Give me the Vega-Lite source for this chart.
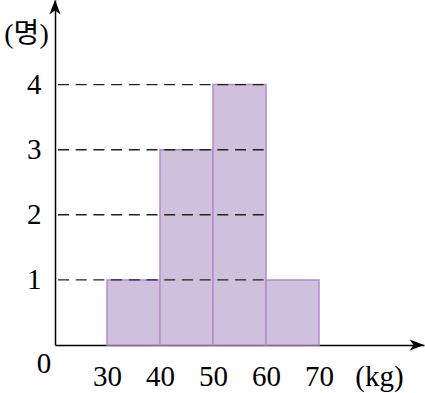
{
  "$schema": "https://vega.github.io/schema/vega-lite/v6.json",
  "width": 369,
  "height": 345,
  "autosize": "none",
  "padding": {"left": 55, "top": 0, "right": 1, "bottom": 48},
  "config": {
    "view": {"stroke": null},
    "font": "Liberation Serif",
    "axis": {
      "grid": false,
      "ticks": false,
      "tickSize": 0,
      "domainColor": "#000000",
      "domainWidth": 1.5,
      "labelColor": "#000000",
      "labelFont": "Liberation Serif",
      "labelFontSize": 29
    }
  },
  "datasets": {
    "bins": [
      {"from": 30, "to": 40, "count": 1},
      {"from": 40, "to": 50, "count": 3},
      {"from": 50, "to": 60, "count": 4},
      {"from": 60, "to": 70, "count": 1}
    ],
    "levels": [
      {"level": 1},
      {"level": 2},
      {"level": 3},
      {"level": 4}
    ],
    "origin": [{"label": "0"}]
  },
  "layer": [
    {
      "data": {"name": "bins"},
      "mark": {"type": "rect", "fill": "#cfc0de", "stroke": "#b48dcb", "strokeWidth": 1.5},
      "encoding": {
        "x": {
          "field": "from",
          "type": "quantitative",
          "scale": {"domain": [20.2, 89.8], "nice": false, "zero": false},
          "axis": {
            "title": null,
            "values": [30, 40, 50, 60, 70, 81.3],
            "labelExpr": "datum.value > 80 ? '(kg)' : datum.label",
            "labelBaseline": "middle",
            "labelPadding": 31,
            "labelFlush": false,
            "labelOverlap": false
          }
        },
        "x2": {"field": "to"},
        "y": {
          "field": "count",
          "type": "quantitative",
          "scale": {"domain": [0, 5.3], "nice": false},
          "axis": {
            "values": [1, 2, 3, 4],
            "format": "d",
            "labelBaseline": "middle",
            "labelPadding": 14,
            "title": "(명)",
            "titleAngle": 0,
            "titleX": -29,
            "titleY": 34,
            "titleAlign": "center",
            "titleBaseline": "middle",
            "titleFont": "Liberation Serif, Noto Sans CJK KR",
            "titleFontSize": 28,
            "titleFontWeight": "normal",
            "titleColor": "#000000"
          }
        },
        "y2": {"datum": 0}
      }
    },
    {
      "data": {"name": "levels"},
      "mark": {"type": "rule", "color": "#222222", "strokeWidth": 1.4, "strokeDash": [11, 6.7], "strokeDashOffset": -3},
      "encoding": {
        "x": {"datum": 20.2, "type": "quantitative"},
        "x2": {"datum": 60},
        "y": {"field": "level", "type": "quantitative"}
      }
    },
    {
      "data": {"name": "origin"},
      "mark": {"type": "point", "shape": "M0,0L-0.7,1.8L0,1.3L0.7,1.8Z", "filled": true, "color": "#000000", "opacity": 1, "size": 256, "strokeWidth": 0},
      "encoding": {
        "x": {"datum": 20.2, "type": "quantitative"},
        "y": {"datum": 5.3, "type": "quantitative"}
      }
    },
    {
      "data": {"name": "origin"},
      "mark": {"type": "point", "shape": "M0,0L-1.8,-0.7L-1.3,0L-1.8,0.7Z", "filled": true, "color": "#000000", "opacity": 1, "size": 256, "strokeWidth": 0},
      "encoding": {
        "x": {"datum": 89.8, "type": "quantitative"},
        "y": {"datum": 0, "type": "quantitative"}
      }
    },
    {
      "data": {"name": "origin"},
      "mark": {"type": "text", "font": "Liberation Serif", "fontSize": 29, "color": "#000000", "dx": -11, "dy": 19, "baseline": "middle", "align": "center"},
      "encoding": {
        "x": {"datum": 20.2, "type": "quantitative"},
        "y": {"datum": 0, "type": "quantitative"},
        "text": {"field": "label"}
      }
    }
  ]
}
